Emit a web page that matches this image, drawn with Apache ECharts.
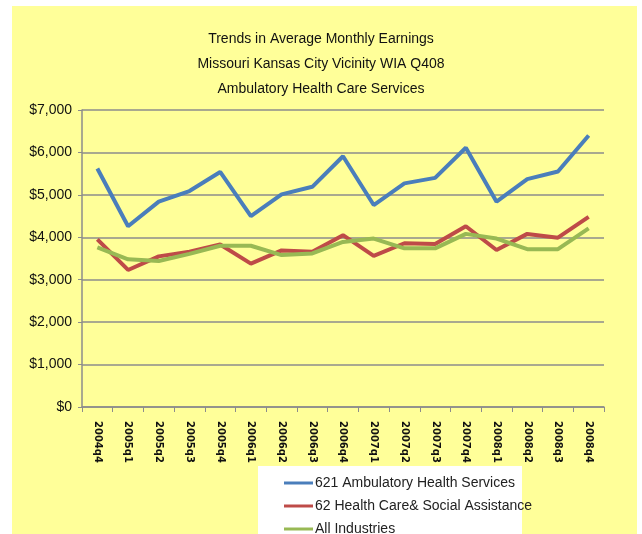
<!DOCTYPE html>
<html>
<head>
<meta charset="utf-8">
<script src="https://cdn.jsdelivr.net/npm/echarts@6/dist/echarts.min.js"></script>
<style>
  html, body { margin: 0; padding: 0; background: #fff; }
  #chart { width: 642px; height: 534px; }
</style>
</head>
<body>
<div id="chart"></div>
<script>
// quarters on the x axis
const quarters = ['2004q4', '2005q1', '2005q2', '2005q3', '2005q4', '2006q1', '2006q2', '2006q3', '2006q4',
  '2007q1', '2007q2', '2007q3', '2007q4', '2008q1', '2008q2', '2008q3', '2008q4']
const seriesNames = ['621 Ambulatory Health Services', '62 Health Care& Social Assistance', 'All Industries']
const ambulatory = [5620, 4260, 4840, 5090, 5540, 4500, 5010, 5190, 5910, 4760, 5270, 5400, 6110, 4840, 5370, 5550, 6400]
const healthCare = [3950, 3230, 3550, 3660, 3830, 3380, 3690, 3660, 4050, 3560, 3860, 3840, 4260, 3700, 4080, 3990, 4480]
const allIndustries = [3760, 3480, 3440, 3610, 3800, 3800, 3580, 3620, 3890, 3970, 3740, 3740, 4080, 3970, 3720, 3720, 4210]

const baseFont = '"Liberation Sans", sans-serif'
const colors = ['#4a7ebb', '#be4b48', '#98b954']

const chart = echarts.init(document.getElementById('chart'))

function lineSeries(name, data, color) {
  return {
    name: name,
    type: 'line',
    data: data,
    symbol: 'none',
    lineStyle: { color: color, width: 4 },
    itemStyle: { color: color }
  }
}

const option = {
  animation: false,
  graphic: [
    { type: 'rect', z: -10, shape: { x: 12, y: 6, width: 625, height: 540 }, style: { fill: '#ffff99' } },
    { type: 'rect', z: -5, shape: { x: 258, y: 466, width: 264, height: 80 }, style: { fill: '#ffffff' } }
  ],
  title: {
    text: 'Trends in Average Monthly Earnings\nMissouri Kansas City Vicinity WIA Q408\nAmbulatory Health Care Services',
    left: 'center',
    top: 22,
    textStyle: { fontFamily: baseFont, fontSize: 14, fontWeight: 'normal', lineHeight: 25, color: '#111' }
  },
  grid: { left: 82, right: 38, top: 110, bottom: 127 },
  legend: {
    orient: 'vertical',
    left: 279,
    top: 470,
    height: 200,
    icon: 'rect',
    itemWidth: 29,
    itemHeight: 3,
    itemGap: 7,
    textStyle: { fontFamily: baseFont, fontSize: 14, lineHeight: 16, color: '#222', padding: [0, 0, 0, -3] },
    data: seriesNames
  },
  xAxis: {
    type: 'category',
    data: quarters,
    boundaryGap: true,
    axisLine: { lineStyle: { color: '#8c8c8c', width: 1.5 } },
    axisTick: { show: true, length: 5, lineStyle: { color: '#8c8c8c' } },
    axisLabel: {
      rotate: -90,
      interval: 0,
      margin: 14,
      fontFamily: '"DejaVu Sans", sans-serif',
      fontSize: 10,
      fontWeight: 'bold',
      color: '#111'
    }
  },
  yAxis: {
    type: 'value',
    min: 0,
    max: 7000,
    interval: 1000,
    axisLine: { show: true, lineStyle: { color: '#8c8c8c', width: 1.5 } },
    axisTick: { show: true, length: 4, lineStyle: { color: '#8c8c8c' } },
    splitLine: { lineStyle: { color: '#8c8c8c', width: 1.5 } },
    axisLabel: {
      margin: 10,
      fontFamily: baseFont,
      fontSize: 14,
      color: '#111',
      formatter: v => '$' + v.toLocaleString('en-US')
    }
  },
  series: [
    lineSeries(seriesNames[0], ambulatory, colors[0]),
    lineSeries(seriesNames[1], healthCare, colors[1]),
    lineSeries(seriesNames[2], allIndustries, colors[2])
  ]
}

chart.setOption(option)
</script>
</body>
</html>
